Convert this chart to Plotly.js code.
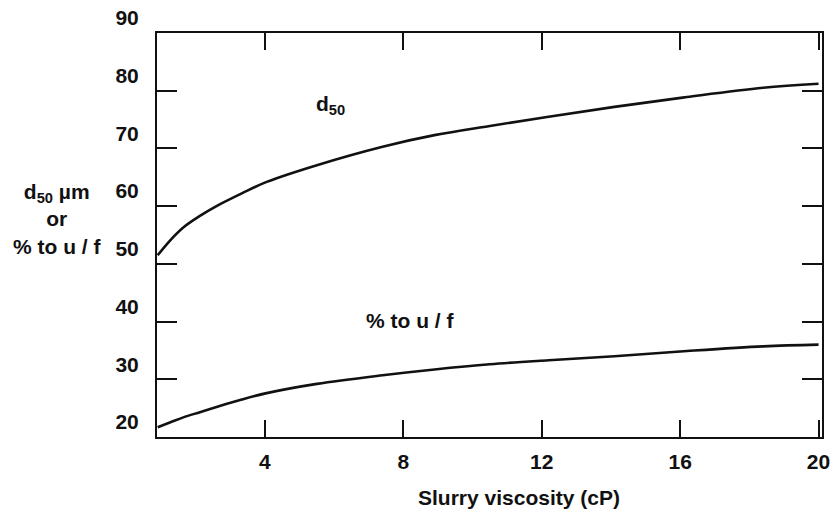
<!DOCTYPE html>
<html>
<head>
<meta charset="utf-8">
<script src="https://cdn.plot.ly/plotly-3.0.1.min.js"></script>
<style>html,body{margin:0;padding:0;background:#fff;}#chart{width:835px;height:510px;}</style>
</head>
<body>
<div id="chart"></div>
<script>
const viscosity = [0.9, 1.25, 1.64, 2.12, 2.6, 3.33, 4.05, 5.5, 7.4, 8.9, 10.5, 12.2, 14.1, 16.2, 18.4, 20];
const d50 = [51.5, 54.0, 56.3, 58.3, 60.0, 62.2, 64.2, 67.1, 70.3, 72.3, 73.9, 75.5, 77.2, 78.9, 80.5, 81.2];
const pctUF = [21.7, 22.5, 23.4, 24.3, 25.2, 26.5, 27.6, 29.2, 30.7, 31.7, 32.6, 33.3, 34.0, 34.9, 35.7, 36.0];
const xTicks = [4, 8, 12, 16, 20];
const yTicks = [20, 30, 40, 50, 60, 70, 80, 90];

const F = {family: 'Liberation Sans, Arial, sans-serif', size: 21, color: '#111', weight: 'bold'};
const lineStyle = {color: '#111', width: 2.6, shape: 'spline', smoothing: 1};

const traces = [
  {x: viscosity, y: d50, mode: 'lines', line: lineStyle, name: 'd50', hoverinfo: 'skip'},
  {x: viscosity, y: pctUF, mode: 'lines', line: lineStyle, name: '% to u / f', hoverinfo: 'skip'}
];

const axisCommon = {
  showgrid: false, zeroline: false, showline: true, linecolor: '#111', linewidth: 2,
  mirror: 'ticks', ticks: 'inside', tickcolor: '#111', tickwidth: 2,
  tickfont: F, fixedrange: true
};

const layout = {
  width: 835, height: 510,
  margin: {l: 157, r: 13, t: 33, b: 73},
  paper_bgcolor: '#fff', plot_bgcolor: '#fff',
  showlegend: false,
  xaxis: Object.assign({}, axisCommon, {
    range: [0.88, 20.1], tickvals: xTicks, ticktext: xTicks.map(String), ticklen: 17,
    ticklabelstandoff: 5
  }),
  yaxis: Object.assign({}, axisCommon, {
    range: [20, 90], tickvals: yTicks, ticktext: yTicks.map(String), ticklen: 20,
    ticklabelshift: -15, ticklabelstandoff: 12
  }),
  annotations: [
    {xref: 'paper', yref: 'paper', x: 0.544, y: -0.149, text: 'Slurry viscosity (cP)',
     showarrow: false, font: F, xanchor: 'center', yanchor: 'middle'},
    {xref: 'paper', yref: 'paper', x: -0.150, y: 0.54, text: 'd<sub>50</sub> µm<br>or<br>% to u / f',
     showarrow: false, font: F, xanchor: 'center', yanchor: 'middle', align: 'center'},
    {xref: 'x', yref: 'y', x: 5.9, y: 77.5, text: 'd<sub>50</sub>',
     showarrow: false, font: F, xanchor: 'center', yanchor: 'middle'},
    {xref: 'x', yref: 'y', x: 8.2, y: 40.2, text: '% to u / f',
     showarrow: false, font: F, xanchor: 'center', yanchor: 'middle'}
  ]
};

Plotly.newPlot('chart', traces, layout, {displayModeBar: false, staticPlot: true});
</script>
</body>
</html>
